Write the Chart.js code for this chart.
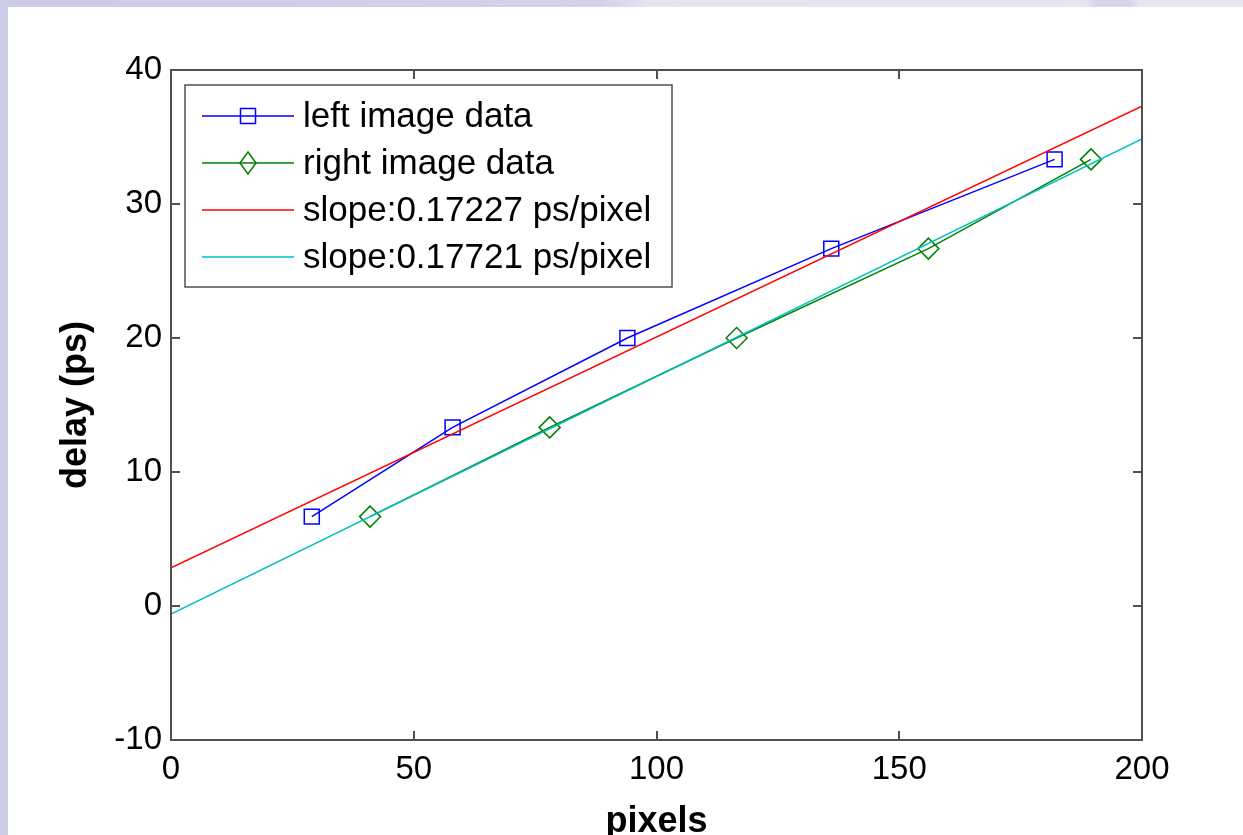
<!DOCTYPE html>
<html>
<head>
<meta charset="utf-8">
<title>delay vs pixels</title>
<script src="https://cdn.jsdelivr.net/npm/chart.js@4.4.0/dist/chart.umd.min.js"></script>
<style>
  html, body { margin: 0; padding: 0; overflow: hidden; }
  body {
    width: 1243px; height: 835px; position: relative;
    background: linear-gradient(to right, #cbcbe6 0px, #d2d2ea 600px, #dcdcee 630px, #e5e5f2 650px,
                #e6e6f3 1085px, #d6d6eb 1095px, #d6d6eb 1130px, #e6e6f3 1140px);
  }
  #panel { position: absolute; left: 8px; top: 7px; width: 1235px; height: 828px; background: #fff; }
  #panel canvas { display: block; }
</style>
</head>
<body>
<div id="panel"><canvas id="delayChart" width="1235" height="828"></canvas></div>
<script>
document.addEventListener("DOMContentLoaded", function () {
  // measured points ------------------------------------------------------
  const leftX = [29, 58, 94, 136, 182];
  const leftDelay = [6.67, 13.33, 20, 26.67, 33.33];
  const rightX = [41, 78, 116.5, 156, 189.5];
  const rightDelay = [6.67, 13.33, 20, 26.67, 33.33];

  // fitted lines, end points at x = 0 and x = 200
  const fitX = [0, 200];
  const leftFit = [2.85, 37.3];
  const rightFit = [-0.6, 34.85];

  const seriesNames = [
    "left image data",
    "right image data",
    "slope:0.17227 ps/pixel",
    "slope:0.17721 ps/pixel",
  ];
  const xTicks = [0, 50, 100, 150, 200];
  const yTicks = [-10, 0, 10, 20, 30, 40];

  const font = "'Liberation Sans', Arial, Helvetica, sans-serif";
  const axisColor = "#505050";

  const toPoints = (xs, ys) => xs.map((x, i) => ({ x: x, y: ys[i] }));

  // box, inward ticks and the legend are drawn on top of the plot
  const matlabFrame = {
    id: "matlabFrame",
    afterDraw(chart) {
      const { ctx, chartArea: a, scales } = chart;
      const tickLen = 9;
      ctx.save();
      ctx.strokeStyle = axisColor;
      ctx.lineWidth = 2;
      ctx.beginPath();
      xTicks.forEach((v) => {
        const px = Math.round(scales.x.getPixelForValue(v));
        ctx.moveTo(px, a.bottom); ctx.lineTo(px, a.bottom - tickLen);
        ctx.moveTo(px, a.top); ctx.lineTo(px, a.top + tickLen);
      });
      yTicks.forEach((v) => {
        const py = Math.round(scales.y.getPixelForValue(v));
        ctx.moveTo(a.left, py); ctx.lineTo(a.left + tickLen, py);
        ctx.moveTo(a.right, py); ctx.lineTo(a.right - tickLen, py);
      });
      ctx.stroke();
      ctx.strokeRect(a.left, a.top, a.width, a.height);

      // legend box
      const bx = a.left + 14, by = a.top + 15, bw = 487, bh = 202;
      ctx.fillStyle = "#fff";
      ctx.fillRect(bx, by, bw, bh);
      ctx.lineWidth = 1.5;
      ctx.strokeRect(bx, by, bw, bh);
      ctx.font = "35px " + font;
      ctx.textBaseline = "middle";
      ctx.textAlign = "left";
      chart.data.datasets.forEach((ds, i) => {
        const y = by + 31 + i * 47;
        const x0 = bx + 17, x1 = bx + 109, xm = (x0 + x1) / 2;
        ctx.strokeStyle = ds.borderColor;
        ctx.lineWidth = 1.5;
        ctx.beginPath();
        ctx.moveTo(x0, y); ctx.lineTo(x1, y);
        ctx.stroke();
        if (ds.pointStyle === "rect") {
          ctx.strokeRect(xm - 7.5, y - 7.5, 15, 15);
        } else if (ds.pointStyle === "rectRot") {
          ctx.beginPath();
          ctx.moveTo(xm, y - 11); ctx.lineTo(xm + 8, y);
          ctx.lineTo(xm, y + 11); ctx.lineTo(xm - 8, y);
          ctx.closePath();
          ctx.stroke();
        }
        ctx.fillStyle = "#000";
        ctx.fillText(ds.label, bx + 118, y + 1);
      });
      ctx.restore();
    },
  };

  const ctx = document.getElementById("delayChart").getContext("2d");

  new Chart(ctx, {
    type: "scatter",
    data: {
      datasets: [
        {
          label: seriesNames[0],
          data: toPoints(leftX, leftDelay),
          showLine: true,
          borderColor: "#0000ff",
          borderWidth: 1.5,
          pointStyle: "rect",
          pointRadius: 10.6,
          pointBorderWidth: 1.5,
          pointBackgroundColor: "rgba(0,0,0,0)",
          pointBorderColor: "#0000ff",
          order: 4,
        },
        {
          label: seriesNames[1],
          data: toPoints(rightX, rightDelay),
          showLine: true,
          borderColor: "#008000",
          borderWidth: 1.5,
          pointStyle: "rectRot",
          pointRadius: 10.5,
          pointBorderWidth: 1.5,
          pointBackgroundColor: "rgba(0,0,0,0)",
          pointBorderColor: "#008000",
          order: 3,
        },
        {
          label: seriesNames[2],
          data: toPoints(fitX, leftFit),
          showLine: true,
          borderColor: "#ff0000",
          borderWidth: 1.5,
          pointRadius: 0,
          order: 2,
        },
        {
          label: seriesNames[3],
          data: toPoints(fitX, rightFit),
          showLine: true,
          borderColor: "#00bfbf",
          borderWidth: 1.5,
          pointRadius: 0,
          order: 1,
        },
      ],
    },
    options: {
      responsive: false,
      animation: false,
      events: [],
      layout: { padding: { left: 0, top: 63, right: 101, bottom: 0 } },
      plugins: {
        legend: { display: false },
        tooltip: { enabled: false },
      },
      scales: {
        x: {
          type: "linear",
          min: 0,
          max: 200,
          afterFit: (scale) => { scale.height = 95; },
          afterBuildTicks: (scale) => { scale.ticks = xTicks.map((v) => ({ value: v })); },
          grid: { display: false, drawTicks: false },
          border: { display: false },
          ticks: { padding: 10, color: "#000", font: { family: font, size: 33 } },
          title: {
            display: true,
            text: "pixels",
            color: "#000",
            font: { family: font, size: 36, weight: "bold", lineHeight: 1 },
            padding: { top: 0, bottom: -5.5 },
          },
        },
        y: {
          type: "linear",
          min: -10,
          max: 40,
          afterFit: (scale) => { scale.width = 163; },
          afterBuildTicks: (scale) => { scale.ticks = yTicks.map((v) => ({ value: v })); },
          grid: { display: false, drawTicks: false },
          border: { display: false },
          ticks: { padding: 9, color: "#000", font: { family: font, size: 33 } },
          title: {
            display: true,
            text: "delay (ps)",
            color: "#000",
            font: { family: font, size: 36, weight: "bold", lineHeight: 1.2 },
            padding: { top: 46, bottom: 0 },
          },
        },
      },
    },
    plugins: [matlabFrame],
  });
});
</script>
</body>
</html>
